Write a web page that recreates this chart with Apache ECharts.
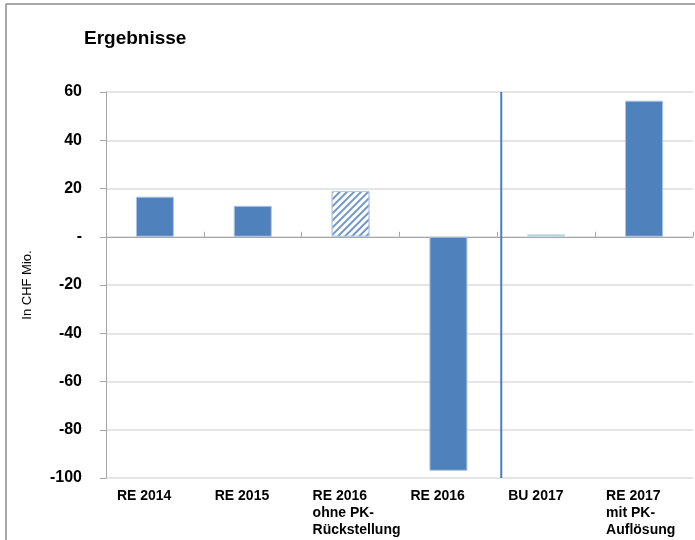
<!DOCTYPE html>
<html><head><meta charset="utf-8">
<script src="https://cdn.jsdelivr.net/npm/echarts@6/dist/echarts.min.js"></script>
<style>html,body{margin:0;padding:0;background:#fff}#c{width:695px;height:540px}</style>
</head><body><div id="c"></div>
<script>
const categories = ['RE 2014','RE 2015','RE 2016\nohne PK-\nRückstellung','RE 2016','BU 2017','RE 2017\nmit PK-\nAuflösung'];
const values = [16.6, 12.8, 19.0, -97.0, 1.0, 56.4];
const yTicks = [-100,-80,-60,-40,-20,0,20,40,60];
const dividerPos = 4.04; // position of vertical divider in category units

const chart = echarts.init(document.getElementById('c'));
const blue = '#4f81bd';
const data = values.map((v,i)=>{
  const d = {value:v};
  if(i===2){ d.itemStyle = {color:'#ffffff', borderColor:'#b9cde6', borderWidth:1,
    decal:{symbol:'rect', dashArrayX:[1,0], dashArrayY:[1.5,2.5], rotation:-Math.PI/4, color:'#6f97cc', symbolSize:1}}; }
  if(i===4){ d.itemStyle = {color:'#8ec4d0', borderColor:'#c6e1e8'}; }
  return d;
});
chart.setOption({
  animation:false,
  title:{text:'Ergebnisse', left:79, top:24, textStyle:{fontFamily:'Liberation Sans, Arial', fontWeight:'bold', fontSize:19, color:'#000'}},
  graphic:[
    {type:'line', shape:{x1:6,y1:4,x2:695,y2:4}, style:{stroke:'#8a8a8a', lineWidth:1.5}},
    {type:'line', shape:{x1:6,y1:4,x2:6,y2:540}, style:{stroke:'#8a8a8a', lineWidth:1.5}}
  ],
  grid:{left:106, right:2, top:92, bottom:62, containLabel:false},
  xAxis:[
    {type:'category', data:categories, axisLine:{onZero:true, lineStyle:{color:'#a6a6a6', width:1}},
     axisTick:{show:true, inside:true, alignWithLabel:false, length:5, lineStyle:{color:'#a6a6a6'}}, axisLabel:{show:false}},
    {type:'category', data:categories, position:'bottom', axisLine:{show:false, onZero:false}, axisTick:{show:false},
     axisLabel:{show:true, margin:10, align:'left', padding:[0,0,0,-38], lineHeight:17, fontFamily:'Liberation Sans, Arial', fontWeight:'bold', fontSize:14, color:'#000', interval:0}},
    {type:'value', min:0, max:6, show:false}
  ],
  yAxis:{type:'value', min:-100, max:60, interval:20,
    axisLine:{show:true, lineStyle:{color:'#a6a6a6'}}, axisTick:{show:true, length:6, lineStyle:{color:'#a6a6a6'}},
    splitLine:{show:true, lineStyle:{color:'#dcdcdc', width:1.5}},
    axisLabel:{margin:24, fontFamily:'Liberation Sans, Arial', fontWeight:'bold', fontSize:16, color:'#000',
      formatter:v=> v===0 ? '-' : String(v)},
    name:'In CHF Mio.', nameLocation:'middle', nameGap:72, nameRotate:90,
    nameTextStyle:{fontFamily:'Liberation Sans, Arial', fontSize:13, color:'#000'}},
  series:[
    {type:'bar', xAxisIndex:0, data:data, barWidth:38, itemStyle:{color:blue, borderColor:'#a9c3e3', borderWidth:1}},
    {type:'line', xAxisIndex:2, data:[[dividerPos,-100],[dividerPos,60]], symbol:'none', lineStyle:{color:'#4a7ebb', width:2}}
  ]
});
</script></body></html>
